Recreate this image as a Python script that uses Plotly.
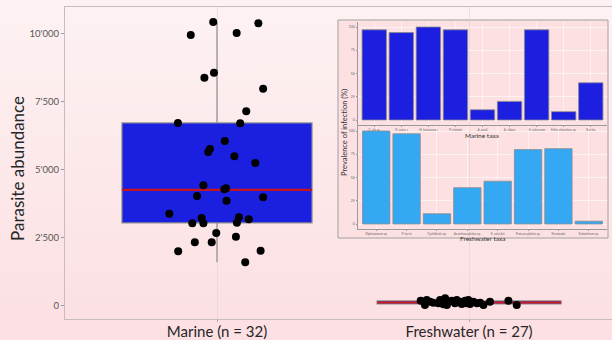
import base64
import plotly.graph_objects as go

# ---------------- data ----------------
groups = ["Marine (n = 32)", "Freshwater (n = 27)"]

marine_values = [10414, 10367, 9938, 10011, 8555, 8372, 7968, 7140, 6711, 6700,
                 6051, 5757, 5647, 5489, 5244, 4426, 4279, 4316, 4034, 3986,
                 3861, 3385, 3227, 3253, 3179, 3033, 3033, 3055, 2677, 2541,
                 2336, 2336, 2006, 2028, 1602]
marine_jitter = [-0.015, 0.164, -0.104, 0.078, -0.012, -0.050, 0.183, 0.116, -0.155, 0.092,
                 0.031, -0.028, -0.035, 0.069, 0.152, -0.054, 0.029, 0.036, -0.079, 0.183,
                 0.038, -0.189, -0.061, 0.087, 0.126, -0.098, -0.054, 0.079, -0.003, 0.075,
                 -0.088, -0.021, -0.154, 0.173, 0.112]

fresh_values = [195, 37, 158, 121, 220, 282, 62, 158, 195, 99, 158, 195, 220, 73,
                158, 99, 121, 37, 158, 195, 37, 99, 220, 73, 99, 220, 37]
fresh_jitter = [-0.192, -0.175, -0.155, -0.142, -0.115, -0.095, -0.102, -0.082, -0.069,
                -0.056, -0.036, -0.016, -0.003, 0.004, 0.017, 0.031, 0.044, 0.057, 0.083,
                0.156, 0.189, -0.122, -0.049, -0.029, -0.009, -0.168, -0.088]

marine_q1, marine_median, marine_q3, marine_lo, marine_hi = 3044, 4254, 6711, 1602, 10414
fresh_q1, fresh_median, fresh_q3, fresh_lo, fresh_hi = 75, 128, 185, 37, 282

ytick_vals = [0, 2500, 5000, 7500, 10000]
ytick_text = ["0", "2'500", "5'000", "7'500", "10'000"]

marine_taxa = ["C. oligue", "D. varicus", "H. lucasianum", "P. elonimi", "A. pauli",
               "A. vilipes", "H. sebernum", "Echinorhynchus sp.", "Bas kia"]
marine_prev = [97, 94, 100, 97, 11, 20, 97, 9, 40]
fresh_taxa = ["Diplostomum sp.", "P. laevis", "Cystidicola sp.", "Acanthocephalus sp.",
              "E. salvelini", "Proteocephalus sp.", "Nematoda", "Eubothrium sp."]
fresh_prev = [100, 97, 11, 39, 46, 80, 81, 3]
prev_ticks = [0, 25, 50, 75, 100]

# ---------------- figure ----------------
W, H = 612, 340
ML, MR, MT, MB = 65, 0, 7, 21
PW, PH = W - ML - MR, H - MT - MB


def px_x(x):
    return (x - ML) / PW


def px_y(y):
    return (H - MB - y) / PH


fig = go.Figure()

box_w = [0.754, 0.73]
stats = [(marine_q1, marine_median, marine_q3, marine_lo, marine_hi),
         (fresh_q1, fresh_median, fresh_q3, fresh_lo, fresh_hi)]
for i, (q1, med, q3, lo, hi) in enumerate(stats):
    fig.add_trace(go.Box(
        x=[i], q1=[q1], median=[med], q3=[q3], lowerfence=[lo], upperfence=[hi],
        width=box_w[i], whiskerwidth=0, boxpoints=False,
        fillcolor="#1b1fe0", line=dict(color="#8e8e8e", width=1.2),
        showlegend=False, hoverinfo="skip"))
    fig.add_trace(go.Scatter(
        x=[i - box_w[i] / 2, i + box_w[i] / 2], y=[med, med], mode="lines",
        line=dict(color="#c8141e", width=2.2), showlegend=False, hoverinfo="skip"))

fig.add_trace(go.Scatter(
    x=[0 + d for d in marine_jitter], y=marine_values, mode="markers",
    marker=dict(color="black", size=8), showlegend=False))
fig.add_trace(go.Scatter(
    x=[1 + d for d in fresh_jitter], y=fresh_values, mode="markers",
    marker=dict(color="black", size=8), showlegend=False))

# inset bars
fig.add_trace(go.Bar(x=marine_taxa, y=marine_prev, xaxis="x2", yaxis="y2",
                     marker=dict(color="#1c1ee0", line=dict(color="#8a8a8a", width=0.8)),
                     showlegend=False))
fig.add_trace(go.Bar(x=fresh_taxa, y=fresh_prev, xaxis="x3", yaxis="y3",
                     marker=dict(color="#35a8f4", line=dict(color="#8a8a8a", width=0.8)),
                     showlegend=False))

# background gradient
svg = ('<svg xmlns="http://www.w3.org/2000/svg" width="612" height="340" preserveAspectRatio="none">'
       '<defs><linearGradient id="g" x1="0" y1="0" x2="0" y2="1">'
       '<stop offset="0" stop-color="#fdf2f2"/><stop offset="1" stop-color="#fcdfe2"/>'
       '</linearGradient></defs><rect width="612" height="340" fill="url(#g)"/></svg>')
src = "data:image/svg+xml;base64," + base64.b64encode(svg.encode()).decode()

inset_x0, inset_x1 = px_x(358), px_x(607)
top_dom = [px_y(124.65), px_y(22.35)]
bot_dom = [px_y(228.65), px_y(126.35)]

inset_axis_common = dict(showline=True, linecolor="#9a9a9a", linewidth=0.8,
                         ticks="outside", ticklen=1.5, tickcolor="#9a9a9a",
                         gridcolor="rgba(255,255,255,0.55)", gridwidth=0.5,
                         zeroline=False, automargin=False)

fig.update_layout(
    width=W, height=H,
    margin=dict(l=ML, r=MR, t=MT, b=MB, pad=0, autoexpand=False),
    paper_bgcolor="#fce8ea", plot_bgcolor="rgba(0,0,0,0)",
    font=dict(family="Lato, 'Open Sans', sans-serif"),
    bargap=0.1,
    xaxis=dict(range=[-0.603, 1.567], tickvals=[0, 1], ticktext=groups,
               tickfont=dict(size=15, color="#262626"), automargin=False,
               ticklabelstandoff=-3,
               showline=True, mirror=True, linecolor="#c9bcbe", linewidth=1.3,
               ticks="outside", ticklen=2, tickcolor="#b0a4a6",
               showgrid=True, gridcolor="rgba(215,205,207,0.45)", gridwidth=1,
               zeroline=False),
    yaxis=dict(range=[-477, 10963], tickvals=ytick_vals, ticktext=ytick_text,
               tickfont=dict(size=9.5, color="#555555"), automargin=False,
               showline=True, linecolor="#c9bcbe", linewidth=1.3,
               ticks="outside", ticklen=3, tickcolor="#9a9a9a",
               showgrid=False, zeroline=False),
    xaxis2=dict(domain=[inset_x0, inset_x1], anchor="y2", range=[-0.6, 8.6],
                tickfont=dict(size=3, color="#666"), **inset_axis_common),
    yaxis2=dict(domain=top_dom, anchor="x2", range=[-5, 105], tickvals=prev_ticks,
                tickfont=dict(size=3.5, color="#666"), **inset_axis_common),
    xaxis3=dict(domain=[inset_x0, inset_x1], anchor="y3", range=[-0.6, 7.6],
                tickfont=dict(size=3, color="#666"), **inset_axis_common),
    yaxis3=dict(domain=bot_dom, anchor="x3", range=[-5, 105], tickvals=prev_ticks,
                tickfont=dict(size=3.5, color="#666"), **inset_axis_common),
    images=[dict(source=src, xref="paper", yref="paper", x=-ML / PW, y=1 + MT / PH,
                 sizex=W / PW, sizey=H / PH, sizing="stretch", xanchor="left",
                 yanchor="top", layer="below")],
    shapes=[dict(type="rect", xref="paper", yref="paper",
                 x0=px_x(338), x1=px_x(608), y0=px_y(238), y1=px_y(20),
                 fillcolor="#fde0e2", line=dict(color="#a0a0a0", width=1),
                 layer="below")],
    annotations=[
        dict(text="Parasite abundance", xref="paper", yref="paper",
             x=px_x(18), y=px_y(169), textangle=-90, showarrow=False,
             xanchor="center", yanchor="middle",
             font=dict(size=17, color="#262626")),
        dict(text="Prevalence of infection (%)", xref="paper", yref="paper",
             x=px_x(344), y=px_y(133), textangle=-90, showarrow=False,
             xanchor="center", yanchor="middle",
             font=dict(size=7.5, color="#333")),
        dict(text="Marine taxa", xref="paper", yref="paper",
             x=px_x(482), y=px_y(135), showarrow=False,
             xanchor="center", yanchor="middle",
             font=dict(size=6.5, color="#333")),
        dict(text="Freshwater taxa", xref="paper", yref="paper",
             x=px_x(482), y=px_y(238.5), showarrow=False,
             xanchor="center", yanchor="middle",
             font=dict(size=6.5, color="#333")),
    ],
)

fig.write_html("out.html")
